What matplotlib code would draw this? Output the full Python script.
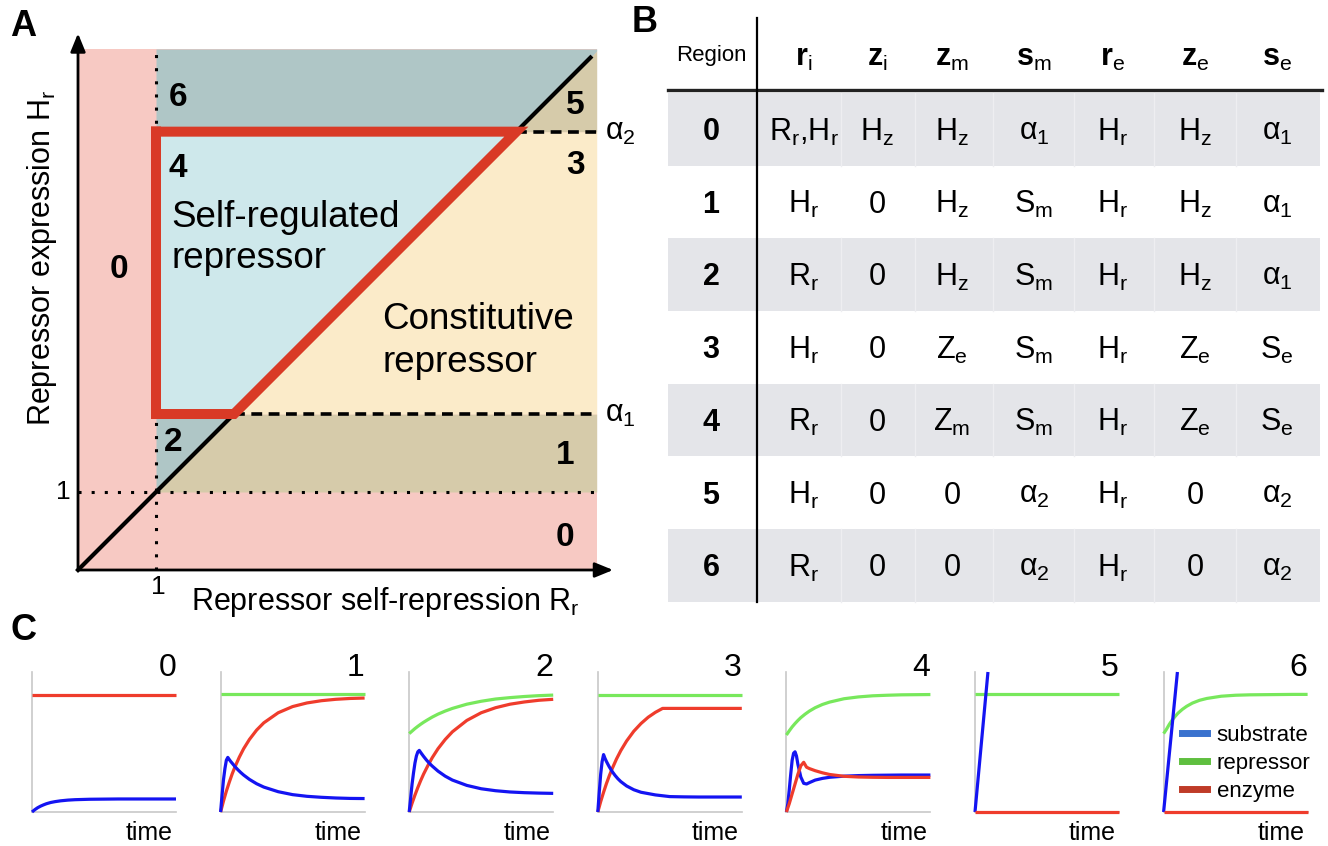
import numpy as np
import matplotlib.pyplot as plt
from matplotlib.lines import Line2D

plt.rcParams['font.family'] = ['Liberation Sans', 'DejaVu Sans']
plt.rcParams['mathtext.fontset'] = 'custom'
plt.rcParams['mathtext.rm'] = 'Liberation Sans'
plt.rcParams['mathtext.it'] = 'Liberation Sans:italic'
plt.rcParams['mathtext.bf'] = 'Liberation Sans:bold'

# ---------------- panel A: regime diagram (Rr, Hr)
alpha1 = 2.0
alpha2 = 5.62
r_unit = 1.0
h_unit = 1.0
x_max = 6.65
y_max = 6.68
diag_end = 6.57

# ---------------- panel B: table
regions = ['0', '1', '2', '3', '4', '5', '6']
col_names = ['r_i', 'z_i', 'z_m', 's_m', 'r_e', 'z_e', 's_e']
table_rows = [
    ['R_r,H_r', 'H_z', 'H_z', 'α_1', 'H_r', 'H_z', 'α_1'],
    ['H_r', '0', 'H_z', 'S_m', 'H_r', 'H_z', 'α_1'],
    ['R_r', '0', 'H_z', 'S_m', 'H_r', 'H_z', 'α_1'],
    ['H_r', '0', 'Z_e', 'S_m', 'H_r', 'Z_e', 'S_e'],
    ['R_r', '0', 'Z_m', 'S_m', 'H_r', 'Z_e', 'S_e'],
    ['H_r', '0', '0', 'α_2', 'H_r', '0', 'α_2'],
    ['R_r', '0', '0', 'α_2', 'H_r', '0', 'α_2'],
]

# ---------------- panel C: time courses (normalised)
t_slow = [0, .02, .04, .06, .08, .10, .13, .16, .20, .25, .30, .40, .50, .60, .70, .80, .90, 1.0]
t_fast = [0, .01, .02, .03, .04, .05, .06, .07, .08, .10, .12, .14, .16, .20, .25, .30,
          .40, .50, .60, .70, .80, .90, 1.0]
t_flat = [0, 1.0]

blue_0 = [0, .017, .031, .042, .051, .059, .068, .074, .080, .085, .088, .091, .092, .093,
          .093, .093, .093, .093]
red_0 = [.836, .836]

green_1 = [.84, .84]
red_1 = [0, .078, .149, .212, .271, .323, .392, .452, .518, .585, .637, .709, .753, .779,
         .795, .805, .811, .814]
blue_1 = [0, .12, .23, .31, .37, .39, .375, .361, .349, .324, .302, .282, .264, .233, .202,
          .178, .145, .124, .112, .105, .100, .097, .096]

green_2 = [.56, .578, .596, .612, .627, .641, .660, .678, .699, .721, .740, .770, .791, .807,
           .817, .825, .831, .835]
red_2 = [0, .063, .121, .175, .225, .271, .332, .388, .452, .518, .573, .654, .709, .745,
         .770, .786, .798, .805]
blue_2 = [0, .10, .20, .28, .35, .40, .43, .44, .425, .397, .371, .348, .328, .292, .256,
          .228, .190, .166, .152, .143, .138, .135, .133]

green_3 = [.836, .836]
t_red_3 = [0, .02, .04, .06, .08, .10, .13, .16, .20, .25, .30, .35, .40, .45, 1.0]
red_3 = [0, .074, .141, .203, .259, .310, .379, .439, .507, .577, .632, .677, .712, .74, .74]
blue_3 = [0, .14, .27, .36, .41, .383, .361, .341, .322, .289, .261, .237, .217, .186, .159,
          .141, .122, .110, .108, .107, .107, .107, .107]

green_4 = [.55, .580, .608, .632, .654, .674, .699, .721, .745, .768, .785, .809, .822, .830,
           .834, .837, .838, .839]
red_4 = [0, .03, .06, .095, .13, .165, .20, .235, .27, .33, .355, .32, .31, .295, .28, .268,
         .255, .25, .248, .247, .247, .247, .247]
blue_4 = [0, .06, .16, .27, .37, .42, .43, .40, .34, .25, .205, .20, .21, .228, .24, .248,
          .256, .26, .262, .263, .264, .264, .264]

green_5 = [.84, .84]
red_5 = [0, 0]
t_blue_5 = [0, .09]
blue_5 = [0, 1.0]

green_6 = [.56, .591, .627, .657, .683, .706, .733, .755, .778, .798, .811, .827, .834, .837,
           .838, .839, .84, .84]
red_6 = [0, 0]
t_blue_6 = [0, .096]
blue_6 = [0, 1.0]

BLUE, GREEN, RED = '#1414F2', '#78E85C', '#EF3C2C'
panels = [
    [(t_flat, red_0, RED), (t_slow, blue_0, BLUE)],
    [(t_flat, green_1, GREEN), (t_slow, red_1, RED), (t_fast, blue_1, BLUE)],
    [(t_slow, green_2, GREEN), (t_slow, red_2, RED), (t_fast, blue_2, BLUE)],
    [(t_flat, green_3, GREEN), (t_red_3, red_3, RED), (t_fast, blue_3, BLUE)],
    [(t_slow, green_4, GREEN), (t_fast, blue_4, BLUE), (t_fast, red_4, RED)],
    [(t_flat, green_5, GREEN), (t_blue_5, blue_5, BLUE), (t_flat, red_5, RED)],
    [(t_slow, green_6, GREEN), (t_blue_6, blue_6, BLUE), (t_flat, red_6, RED)],
]


def sub(s):
    # "H_r" -> H with subscript r
    parts = []
    for item in s.split(','):
        if '_' in item:
            base, idx = item.split('_')
            parts.append(base + r'$_\mathregular{' + idx + '}$')
        else:
            parts.append(item)
    return ','.join(parts)


W, H = 1328, 846
fig = plt.figure(figsize=(W / 100, H / 100), dpi=100)


def box(x0, y0, w, h):
    return [x0 / W, 1 - (y0 + h) / H, w / W, h / H]


# ================= A
ax = fig.add_axes(box(0, 0, 640, 620))
ax.set_xlim(-1.0, 7.205)
ax.set_ylim(-0.641, 7.308)
ax.axis('off')

pink, teal, lblue, yellow, tan = '#F7C9C3', '#AFC6C6', '#CEE8EB', '#FBEBC9', '#D6CBAA'
ax.fill_between([0, x_max], 0, y_max, color=pink, lw=0)
for lo, hi, c_up, c_dn in [(h_unit, alpha1, teal, tan), (alpha1, alpha2, lblue, yellow),
                           (alpha2, y_max, teal, tan)]:
    yy = np.linspace(lo, hi, 60)
    xd = np.minimum(yy, x_max)
    ax.fill_betweenx(yy, r_unit, xd, color=c_up, lw=0)
    ax.fill_betweenx(yy, xd, x_max, color=c_dn, lw=0)

ax.plot([0, x_max], [h_unit, h_unit], color='k', lw=2.2, ls=(0, (1, 3.3)))
ax.plot([r_unit, r_unit], [0, y_max], color='k', lw=2.2, ls=(0, (1, 3.3)))
ax.plot([0, diag_end], [0, diag_end], color='k', lw=3)
ax.plot([alpha1, x_max], [alpha1, alpha1], color='k', lw=2.6, ls=(0, (3, 1.8)))
ax.plot([alpha2, x_max], [alpha2, alpha2], color='k', lw=2.6, ls=(0, (3, 1.8)))
ax.plot([r_unit, r_unit, alpha1, alpha2, r_unit], [alpha2, alpha1, alpha1, alpha2, alpha2],
        color='#D93A26', lw=7.2, solid_joinstyle='miter', solid_capstyle='projecting')

arrow = dict(arrowstyle='-|>,head_length=1.1,head_width=0.45', color='k', lw=2,
             shrinkA=0, shrinkB=0)
ax.annotate('', xy=(6.86, 0), xytext=(0, 0), arrowprops=arrow)
ax.annotate('', xy=(0, 6.88), xytext=(0, 0), arrowprops=arrow)

for lab, x, y in [('6', 1.28, 6.06), ('4', 1.28, 5.15), ('0', 0.52, 3.85), ('5', 6.37, 5.96),
                  ('3', 6.38, 5.19), ('2', 1.22, 1.63), ('1', 6.24, 1.47), ('0', 6.24, 0.42)]:
    ax.text(x, y, lab, fontsize=24, fontweight='bold', ha='center', va='center')

ax.text(1.20, 4.40, 'Self-regulated', fontsize=26.5, va='baseline')
ax.text(1.20, 3.87, 'repressor', fontsize=26.5, va='baseline')
ax.text(3.90, 3.09, 'Constitutive', fontsize=26.5, va='baseline')
ax.text(3.90, 2.54, 'repressor', fontsize=26.5, va='baseline')

ax.text(r_unit + 0.03, -0.22, '1', fontsize=19, ha='center', va='center')
ax.text(-0.19, h_unit, '1', fontsize=19, ha='center', va='center')
ax.text(6.76, alpha1, sub('α_1'), fontsize=22, ha='left', va='center')
ax.text(6.76, alpha2, sub('α_2'), fontsize=22, ha='left', va='center')
ax.text(-0.46, 4.0, sub('Repressor expression H_r'), fontsize=22, rotation=90,
        ha='center', va='center')
ax.text(3.94, -0.51, sub('Repressor self-repression R_r'), fontsize=22, ha='center',
        va='baseline')

# ================= B
tb = fig.add_axes(box(640, 0, 688, 620))
tb.set_xlim(640, 1328)
tb.set_ylim(620, 0)
tb.axis('off')

col_x = [804, 877, 952, 1034, 1113, 1195, 1277]
row_top, row_h = 93, 72.7
band_l, band_r = 668, 1320
for i in range(len(regions)):
    y0 = row_top + i * row_h
    if i % 2 == 0:
        tb.fill_between([band_l, band_r], y0, y0 + row_h, color='#E4E5E9', lw=0)
        for a, b in zip(col_x[:-1], col_x[1:]):
            tb.plot([(a + b) / 2] * 2, [y0, y0 + row_h], color='#EEEEF1', lw=1)
    yc = y0 + 39
    tb.text(711, yc, regions[i], fontsize=22, fontweight='bold', ha='center', va='center')
    for cx, cell in zip(col_x, table_rows[i]):
        tb.text(cx, yc, sub(cell), fontsize=22, ha='center', va='center')

tb.plot([band_l, band_r + 2], [90, 90], color='#222222', lw=2.4)
tb.plot([757, 757], [18, 602], color='k', lw=1.6)
tb.text(711, 55, 'Region', fontsize=16, ha='center', va='center')
for cx, name in zip(col_x, col_names):
    base, idx = name.split('_')
    tb.text(cx, 58, r'$\mathbf{' + base + r'}_\mathregular{' + idx + '}$', fontsize=22,
            ha='center', va='center')

# ================= C
for k, curves in enumerate(panels):
    a = fig.add_axes(box(32 + 188.6 * k, 672, 144, 140))
    a.set_xlim(0, 1)
    a.set_ylim(0, 1)
    for side in ('top', 'right'):
        a.spines[side].set_visible(False)
    for side in ('left', 'bottom'):
        a.spines[side].set_color('#C8C8C8')
        a.spines[side].set_linewidth(1.2)
    a.set_xticks([])
    a.set_yticks([])
    a.patch.set_alpha(0)
    for tt, vals, c in curves:
        a.plot(tt, vals, color=c, lw=2.3, clip_on=False, solid_capstyle='butt', zorder=3)
    a.text(1.0, 1.03, str(k), fontsize=23, ha='right', va='center', transform=a.transAxes)
    a.text(0.98, -0.2, 'time', fontsize=18, ha='right', va='baseline', transform=a.transAxes)
    if k == len(panels) - 1:
        handles = [Line2D([], [], color='#3A72CE', lw=5),
                   Line2D([], [], color='#5FBF3F', lw=5),
                   Line2D([], [], color='#BF3B28', lw=5)]
        a.legend(handles, ['substrate', 'repressor', 'enzyme'], loc='upper left',
                 bbox_to_anchor=(0.13, 0.62), frameon=False, fontsize=16, borderpad=0,
                 borderaxespad=0, handlelength=1.1, handletextpad=0.45, labelspacing=0.3)

fig.text(23 / W, 1 - 26 / H, 'A', fontsize=26, fontweight='bold', ha='center', va='center')
fig.text(645 / W, 1 - 23 / H, 'B', fontsize=26, fontweight='bold', ha='center', va='center')
fig.text(23 / W, 1 - 630 / H, 'C', fontsize=26, fontweight='bold', ha='center', va='center')

fig.savefig('out.png', dpi=100)
